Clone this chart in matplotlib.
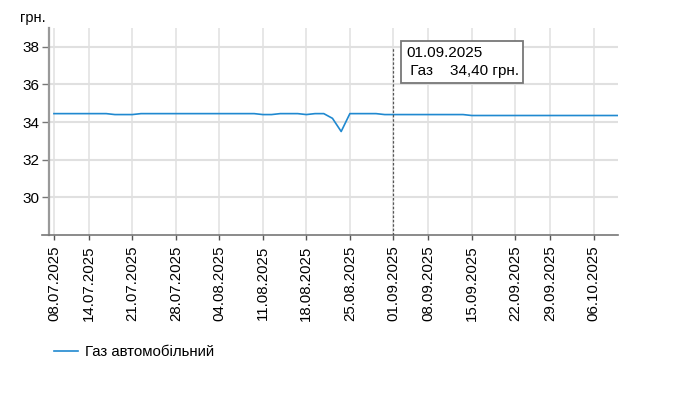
import matplotlib
matplotlib.use('Agg')
import matplotlib.pyplot as plt

plt.rcParams['font.family'] = ['Liberation Sans', 'DejaVu Sans']

# trading days shown on the axis (one point per day)
dates = ['08.07.2025', '09.07.2025', '10.07.2025', '11.07.2025',
         '14.07.2025', '15.07.2025', '16.07.2025', '17.07.2025', '18.07.2025',
         '21.07.2025', '22.07.2025', '23.07.2025', '24.07.2025', '25.07.2025',
         '28.07.2025', '29.07.2025', '30.07.2025', '31.07.2025', '01.08.2025',
         '04.08.2025', '05.08.2025', '06.08.2025', '07.08.2025', '08.08.2025',
         '11.08.2025', '12.08.2025', '13.08.2025', '14.08.2025', '15.08.2025',
         '18.08.2025', '19.08.2025', '20.08.2025', '21.08.2025', '22.08.2025',
         '25.08.2025', '26.08.2025', '27.08.2025', '28.08.2025', '29.08.2025',
         '01.09.2025', '02.09.2025', '03.09.2025', '04.09.2025',
         '08.09.2025', '09.09.2025', '10.09.2025', '11.09.2025', '12.09.2025',
         '15.09.2025', '16.09.2025', '17.09.2025', '18.09.2025', '19.09.2025',
         '22.09.2025', '23.09.2025', '24.09.2025', '25.09.2025',
         '29.09.2025', '30.09.2025', '01.10.2025', '02.10.2025', '03.10.2025',
         '06.10.2025', '07.10.2025', '08.10.2025', '09.10.2025']

# price, UAH
gas = [34.45, 34.45, 34.45, 34.45,
       34.45, 34.45, 34.45, 34.40, 34.40,
       34.40, 34.45, 34.45, 34.45, 34.45,
       34.45, 34.45, 34.45, 34.45, 34.45,
       34.45, 34.45, 34.45, 34.45, 34.45,
       34.40, 34.40, 34.45, 34.45, 34.45,
       34.40, 34.45, 34.45, 34.20, 33.50,
       34.45, 34.45, 34.45, 34.45, 34.40,
       34.40, 34.40, 34.40, 34.40,
       34.40, 34.40, 34.40, 34.40, 34.40,
       34.35, 34.35, 34.35, 34.35, 34.35,
       34.35, 34.35, 34.35, 34.35,
       34.35, 34.35, 34.35, 34.35, 34.35,
       34.35, 34.35, 34.35, 34.35]

tick_dates = ['08.07.2025', '14.07.2025', '21.07.2025', '28.07.2025',
              '04.08.2025', '11.08.2025', '18.08.2025', '25.08.2025',
              '01.09.2025', '08.09.2025', '15.09.2025', '22.09.2025',
              '29.09.2025', '06.10.2025']
y_ticks = [30, 32, 34, 36, 38]

hover_date = '01.09.2025'
series_name = 'Газ автомобільний'

x = list(range(len(dates)))
tick_pos = [dates.index(d) for d in tick_dates]
hover_x = dates.index(hover_date)

fig = plt.figure(figsize=(6.76, 4.03), dpi=100)
ax = fig.add_axes([49/676, 1 - 235/403, (617.5 - 49)/676, (235 - 28)/403])

grid_c = '#e0e0e0'
for t in tick_pos:
    ax.axvline(t, color=grid_c, lw=1.1, zorder=0)
for t in y_ticks:
    ax.axhline(t, color=grid_c, lw=1.5, zorder=0)

line, = ax.plot(x, gas, color='#2089d0', lw=1.2, label=series_name, zorder=3)

ax.vlines(hover_x, 28, 38, colors='#555555', linestyles=(0, (2, 1.5)), lw=0.9, zorder=4)

ax.set_xlim(-0.57, 64.75)
ax.set_ylim(28, 39)
ax.set_xticks(tick_pos)
ax.set_xticklabels(tick_dates, rotation=90, fontsize=10.8)
ax.set_yticks(y_ticks)
ax.set_yticklabels([str(v) for v in y_ticks], fontsize=11)
ax.tick_params(axis='y', length=5, width=1, color='#777777', pad=2)
ax.tick_params(axis='x', length=3.5, width=1, color='#555555', pad=4)

for s in ['top', 'right']:
    ax.spines[s].set_visible(False)
ax.spines['left'].set_color('#999999')
ax.spines['left'].set_linewidth(1.6)
ax.spines['bottom'].set_color('#777777')
ax.spines['bottom'].set_linewidth(1.2)
ax.spines['bottom'].set_bounds(-1.4, 64.75)

fig.text(20/676, 1 - 18/403, 'грн.', fontsize=10.5, va='center', ha='left')

idx = dates.index(hover_date)
value_txt = f'{gas[idx]:.2f}'.replace('.', ',')
ax.annotate(hover_date + '\n Газ    ' + value_txt + ' грн.',
            xy=(hover_x, 39), xycoords='data',
            xytext=(9, -13), textcoords='offset points',
            ha='left', va='top', fontsize=11, linespacing=1.4,
            bbox=dict(boxstyle='square,pad=0.3', fc='white', ec='#777777', lw=1.3),
            zorder=6)

fig.legend(handles=[line], loc='center left', bbox_to_anchor=(54/676, 1 - 352/403),
           frameon=False, fontsize=10.8, handlelength=1.6, handletextpad=0.45,
           borderpad=0, borderaxespad=0)

fig.savefig('out.png', dpi=100)
